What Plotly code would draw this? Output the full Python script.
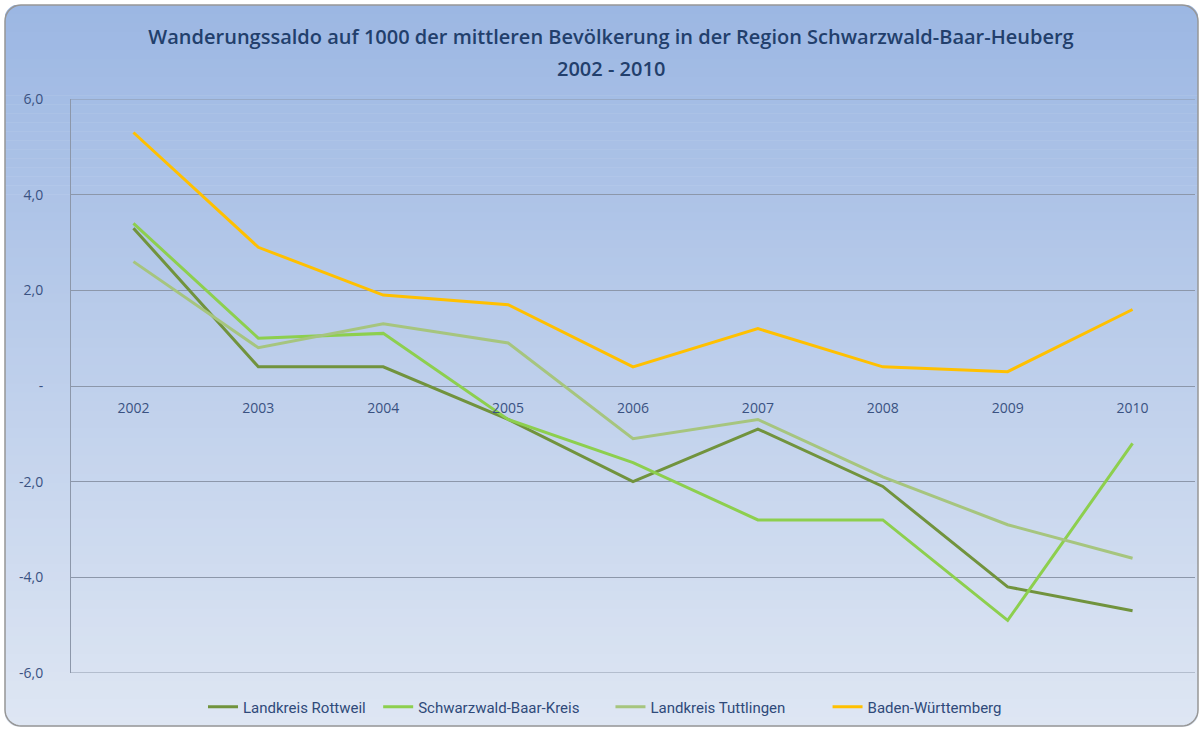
import plotly.graph_objects as go
import math

years = ["2002", "2003", "2004", "2005", "2006", "2007", "2008", "2009", "2010"]
rottweil = [3.3, 0.4, 0.4, -0.7, -2.0, -0.9, -2.1, -4.2, -4.7]
sbk = [3.4, 1.0, 1.1, -0.7, -1.6, -2.8, -2.8, -4.9, -1.2]
tuttlingen = [2.6, 0.8, 1.3, 0.9, -1.1, -0.7, -1.9, -2.9, -3.6]
bw = [5.3, 2.9, 1.9, 1.7, 0.4, 1.2, 0.4, 0.3, 1.6]

series = [
    ("Landkreis Rottweil", rottweil, "#71933D", 2),
    ("Schwarzwald-Baar-Kreis", sbk, "#8DCF4E", 7),
    ("Landkreis Tuttlingen", tuttlingen, "#A6C57E", 10),
    ("Baden-Württemberg", bw, "#FFC000", 0),
]

ytick_vals = [-6, -4, -2, 0, 2, 4, 6]
ytick_text = ["-6,0", "-4,0", "-2,0", "-", "2,0", "4,0", "6,0"]

W, H = 1202, 730
ML, MR, MT, MB = 71, 7, 99, 57
PW, PH = W - ML - MR, H - MT - MB

def px(x):
    return (x - ML) / PW

def py(y):
    return (H - MB - y) / PH

fig = go.Figure()
for name, vals, col, pad in series:
    fig.add_trace(go.Scatter(x=years, y=vals, name=name + "&nbsp;" * pad, mode="lines",
                             line=dict(color=col, width=3)))

shapes = []
top_c = (0x9C, 0xB7, 0xE3)
bot_c = (0xDE, 0xE6, 0xF3)
y0, y1 = 5, 726
n = 80
for i in range(n):
    a = y0 + (y1 - y0) * i / n
    b = y0 + (y1 - y0) * (i + 1) / n + 0.6
    t = i / (n - 1)
    c = tuple(int(round(top_c[k] + (bot_c[k] - top_c[k]) * t)) for k in range(3))
    shapes.append(dict(type="rect", xref="paper", yref="paper", layer="below",
                       x0=px(5), x1=px(1198), y0=py(a), y1=py(b),
                       fillcolor="rgb(%d,%d,%d)" % c, line=dict(width=0)))

r = 16
def corner_mask(cx, cy, sx, sy):
    pts = []
    ox, oy = cx + sx * r, cy + sy * r
    pts.append((cx, cy))
    pts.append((cx, oy))
    for k in range(0, 11):
        ang = math.pi / 2 * k / 10
        pts.append((ox - sx * r * math.cos(ang), oy - sy * r * math.sin(ang)))
    pts.append((ox, cy))
    return "M " + " L ".join("%f,%f" % (px(p[0]), py(p[1])) for p in pts) + " Z"

for cx, cy, sx, sy in [(5, 5, 1, 1), (1198, 5, -1, 1), (5, 726, 1, -1), (1198, 726, -1, -1)]:
    shapes.append(dict(type="path", xref="paper", yref="paper", layer="below",
                       path=corner_mask(cx - sx * 1, cy - sy * 1, sx, sy),
                       fillcolor="white", line=dict(width=0)))

def rounded_rect(x0, y0_, x1, y1_, rr):
    pts = []
    def arc(cx, cy, a0, a1):
        for k in range(0, 11):
            ang = a0 + (a1 - a0) * k / 10
            pts.append((cx + rr * math.cos(ang), cy + rr * math.sin(ang)))
    arc(x0 + rr, y0_ + rr, math.pi, 1.5 * math.pi)
    arc(x1 - rr, y0_ + rr, 1.5 * math.pi, 2 * math.pi)
    arc(x1 - rr, y1_ - rr, 0, 0.5 * math.pi)
    arc(x0 + rr, y1_ - rr, 0.5 * math.pi, math.pi)
    return "M " + " L ".join("%f,%f" % (px(p[0]), py(p[1])) for p in pts) + " Z"

shapes.append(dict(type="path", xref="paper", yref="paper", layer="below",
                   path=rounded_rect(5, 5, 1198, 726, r),
                   fillcolor="rgba(0,0,0,0)", line=dict(color="#969696", width=1.5)))

for yv in (ytick_vals[0], ytick_vals[-1]):
    shapes.append(dict(type="line", xref="paper", yref="y", layer="below",
                       x0=0, x1=1, y0=yv, y1=yv, line=dict(color="#8C97AA", width=1)))

title_font = dict(family="Open Sans, sans-serif", size=20, color="#223F6C", weight=600)

fig.update_layout(
    width=W, height=H,
    margin=dict(l=ML, r=MR, t=MT, b=MB),
    paper_bgcolor="white",
    plot_bgcolor="rgba(0,0,0,0)",
    shapes=shapes,
    title=dict(
        text="Wanderungssaldo auf 1000 der mittleren Bevölkerung in der Region Schwarzwald-Baar-Heuberg",
        x=px(611), xref="paper", xanchor="center", y=1 - 37 / H, yanchor="middle",
        font=title_font,
    ),
    annotations=[dict(text="2002 - 2010", xref="paper", yref="paper", x=px(611), y=py(68),
                      xanchor="center", yanchor="middle", showarrow=False, font=title_font)],
    xaxis=dict(
        type="category", anchor="free", position=0.5, range=[-0.5, 8.5],
        showgrid=False, showline=False, zeroline=False,
        ticks="", tickfont=dict(family="Open Sans, sans-serif", size=14, color="#3A5282"),
        ticklabelstandoff=12,
    ),
    yaxis=dict(
        range=[-6, 6], tickvals=ytick_vals, ticktext=ytick_text,
        showgrid=True, gridcolor="#8C97AA", gridwidth=1,
        zeroline=False, showline=True, linecolor="#8C97AA", linewidth=1,
        ticks="", ticklabelstandoff=24,
        tickfont=dict(family="Open Sans, sans-serif", size=14, color="#3A5282"),
    ),
    legend=dict(
        orientation="h", x=px(203), xanchor="left", y=py(707), yanchor="middle",
        font=dict(family="Liberation Sans Narrow, Roboto, sans-serif", size=15, color="#2F4A7A"),
        bgcolor="rgba(0,0,0,0)", itemwidth=30, tracegroupgap=0,
    ),
    showlegend=True,
)

fig.write_html("out.html", config={"displayModeBar": False},
               post_script="document.body.style.margin='0';")
